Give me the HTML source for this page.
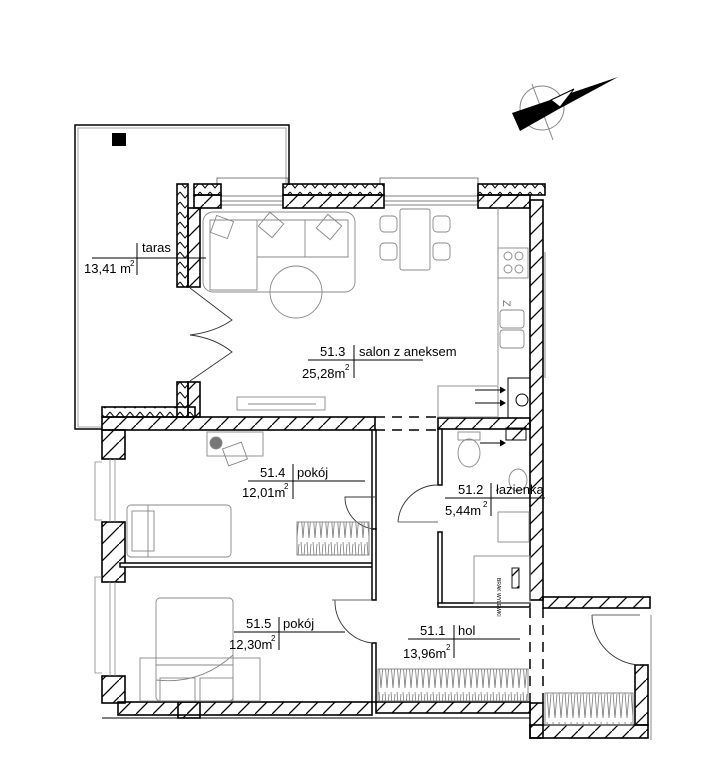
<!DOCTYPE html>
<html><head><meta charset="utf-8"><style>
html,body{margin:0;padding:0;background:#fff;}
svg{display:block;}
text{font-family:"Liberation Sans",sans-serif;font-size:13px;fill:#000;}
</style></head><body>
<svg width="703" height="782" viewBox="0 0 703 782" xmlns="http://www.w3.org/2000/svg">
<defs>
<pattern id="h" patternUnits="userSpaceOnUse" width="17" height="17">
<line x1="0" y1="17" x2="17" y2="0" stroke="#000" stroke-width="1.3"/>
</pattern>
<pattern id="ins" patternUnits="userSpaceOnUse" width="10" height="10">
<path d="M0,2 L5,8 L10,2" fill="none" stroke="#000" stroke-width="1"/>
</pattern>
<pattern id="wd" patternUnits="userSpaceOnUse" width="6" height="30">
<path d="M1,2 L3,28 L5,4" fill="none" stroke="#777" stroke-width="0.8"/>
</pattern>
</defs>

<circle cx="542" cy="108" r="22" fill="none" stroke="#888" stroke-width="1"/>
<line x1="532" y1="84" x2="553" y2="140" stroke="#888"/>
<polygon points="512,113 618,77 557,110 520,131" fill="#000"/>
<polygon points="551,100 574,89 560,107" fill="#fff" stroke="#000" stroke-width="1"/>

<path d="M289,185 V125 H75 V429 H102" fill="none" stroke="#000" stroke-width="1.5"/>
<path d="M286,185 V128 H78 V427 H102" fill="none" stroke="#888" stroke-width="0.8"/>
<rect x="112" y="133" width="14" height="13" fill="#000"/>

<g fill="none" stroke="#555" stroke-width="0.8">
<path d="M217,185 V178 H288 V185"/><path d="M380,185 V178 H478 V185"/>
<line x1="221" y1="196" x2="283" y2="196"/><line x1="221" y1="201" x2="283" y2="201"/><line x1="221" y1="205" x2="283" y2="205"/>
<line x1="384" y1="196" x2="478" y2="196"/><line x1="384" y1="201" x2="478" y2="201"/><line x1="384" y1="205" x2="478" y2="205"/>
</g>

<g stroke="#000" stroke-width="1.6">
<rect x="194" y="184" width="27" height="11" fill="url(#ins)"/>
<rect x="194" y="195" width="27" height="13" fill="url(#h)"/>
<rect x="283" y="184" width="101" height="11" fill="url(#ins)"/>
<rect x="283" y="195" width="101" height="13" fill="url(#h)"/>
<rect x="478" y="184" width="67" height="11" fill="url(#ins)"/>
<rect x="478" y="195" width="52" height="13" fill="url(#h)"/>
<rect x="177" y="184" width="11" height="103" fill="url(#ins)"/>
<rect x="188" y="208" width="12" height="79" fill="url(#h)"/>
<rect x="177" y="382" width="11" height="35" fill="url(#ins)"/>
<rect x="188" y="382" width="12" height="35" fill="url(#h)"/>
<rect x="530" y="200" width="13" height="400" fill="url(#h)"/>
<rect x="102" y="407" width="93" height="10" fill="url(#ins)"/>
<rect x="102" y="417" width="273" height="13" fill="url(#h)"/>
<rect x="438" y="418" width="92" height="11" fill="url(#h)"/>
<rect x="102" y="430" width="23" height="29" fill="url(#h)"/>
<rect x="102" y="522" width="23" height="60" fill="url(#h)"/>
<rect x="102" y="676" width="23" height="27" fill="url(#h)"/>
<rect x="118" y="702" width="254" height="13" fill="url(#h)"/>
<rect x="178" y="702" width="22" height="16" fill="url(#h)"/>
<rect x="376" y="702" width="154" height="11" fill="url(#h)"/>
<rect x="543" y="597" width="107" height="11" fill="url(#h)"/>
<rect x="530" y="703" width="13" height="35" fill="url(#h)"/>
<rect x="530" y="725" width="118" height="13" fill="url(#h)"/>
<rect x="635" y="665" width="13" height="60" fill="url(#h)"/>
</g>
<line x1="545" y1="252" x2="545" y2="378" stroke="#888"/>
<line x1="651" y1="615" x2="651" y2="740" stroke="#888"/>
<line x1="102" y1="718" x2="530" y2="718" stroke="#000" stroke-width="1"/>

<g stroke="#000" stroke-width="1.5" fill="#fff">
<rect x="120" y="563" width="255" height="4"/>
<rect x="372" y="430" width="4" height="99"/>
<rect x="372" y="529" width="4" height="71"/>
<rect x="372" y="643" width="4" height="59"/>
<rect x="438" y="429" width="4" height="56"/>
<rect x="438" y="532" width="4" height="72"/>
<rect x="438" y="603" width="92" height="4"/>
</g>
<g stroke="#000" stroke-width="1.5" stroke-dasharray="10,7">
<line x1="375" y1="417" x2="438" y2="417"/><line x1="375" y1="430" x2="438" y2="430"/>
<line x1="530" y1="608" x2="530" y2="703"/><line x1="543" y1="608" x2="543" y2="703"/>
</g>

<g fill="none" stroke="#888" stroke-width="0.8">
<path d="M102,462 H95 V520 H102"/><line x1="110" y1="459" x2="110" y2="522"/><line x1="115" y1="459" x2="115" y2="522"/>
<path d="M102,577 H95 V673 H102"/><line x1="110" y1="582" x2="110" y2="676"/><line x1="115" y1="582" x2="115" y2="676"/>
</g>

<g fill="none" stroke="#333" stroke-width="0.9">
<path d="M190,288 L232,320 Q215,332 190,335"/>
<path d="M190,381 L232,352 Q215,338 190,335"/>
<path d="M375,497 L345,497 A32,32 0 0 0 375,529"/>
<path d="M335,600 A42,42 0 0 0 372,643"/><line x1="332" y1="600" x2="372" y2="600" stroke="#666"/>
<path d="M438,485 A40,40 0 0 0 398,522"/><line x1="398" y1="522" x2="438" y2="522" stroke="#666"/>
<path d="M592,615 A50,50 0 0 0 640,665"/><line x1="592" y1="615" x2="640" y2="615" stroke="#666"/>
</g>

<g fill="none" stroke="#888" stroke-width="0.9">
<rect x="203" y="212" width="152" height="80" rx="10"/>
<path d="M210,220 H348 V257 H257 V290 H210 Z"/>
<line x1="257" y1="220" x2="257" y2="257"/><line x1="305" y1="220" x2="305" y2="257"/>
<rect x="213" y="218" width="18" height="18" transform="rotate(20 222 227)"/>
<rect x="262" y="216" width="18" height="18" transform="rotate(40 271 225)"/>
<rect x="320" y="218" width="18" height="18" transform="rotate(40 329 227)"/>
<circle cx="296" cy="292" r="26"/>
<rect x="400" y="209" width="30" height="61" rx="2"/>
<rect x="380" y="216" width="17" height="16" rx="4"/><rect x="380" y="243" width="17" height="17" rx="4"/>
<rect x="433" y="216" width="17" height="16" rx="4"/><rect x="433" y="243" width="17" height="17" rx="4"/>
<line x1="498" y1="208" x2="498" y2="385"/>
<rect x="498" y="248" width="30" height="30"/>
<circle cx="508" cy="256" r="4"/><circle cx="519" cy="256" r="4"/><circle cx="508" cy="269" r="4"/><circle cx="519" cy="269" r="4"/>
<rect x="500" y="310" width="24" height="18" rx="3"/><rect x="500" y="330" width="24" height="18" rx="3"/>
<rect x="237" y="397" width="88" height="13"/><line x1="248" y1="404" x2="316" y2="404"/>
<rect x="438" y="386" width="60" height="31"/>
<rect x="207" y="432" width="56" height="24"/><circle cx="216" cy="443" r="6" fill="#777"/>
<rect x="225" y="445" width="20" height="18" transform="rotate(-20 235 454)"/>
<rect x="127" y="505" width="104" height="52" rx="4"/><rect x="132" y="511" width="22" height="40"/><line x1="148" y1="505" x2="148" y2="557"/>
<rect x="297" y="522" width="72" height="33"/><rect x="297" y="522" width="72" height="33" fill="url(#wd)"/>
<rect x="156" y="598" width="77" height="103" rx="4"/><path d="M156,665 H233 M156,680 Q200,685 233,655"/>
<rect x="140" y="658" width="120" height="43"/><rect x="160" y="678" width="35" height="23"/><rect x="200" y="678" width="33" height="23"/>
<rect x="378" y="669" width="150" height="32"/><rect x="378" y="669" width="150" height="32" fill="url(#wd)"/>
<rect x="545" y="693" width="88" height="32"/><rect x="545" y="693" width="88" height="32" fill="url(#wd)"/>
<ellipse cx="469" cy="453" rx="11" ry="14"/><rect x="458" y="432" width="22" height="8"/>
<ellipse cx="518" cy="480" rx="9" ry="11"/>
<rect x="498" y="512" width="31" height="30"/>
<rect x="474" y="556" width="56" height="47"/>
<rect x="512" y="568" width="7" height="20" fill="url(#h)" stroke="#000"/>
</g>
<text x="497" y="578" transform="rotate(90 497 578)" style="font-size:5px">BRAK WYLEWKI</text>
<text x="503" y="300" transform="rotate(90 503 300)" style="font-size:11px;fill:#777">Z</text>
<g stroke="#000" fill="none" stroke-width="1">
<rect x="508" y="378" width="22" height="40"/><circle cx="522" cy="400" r="6"/>
<rect x="506" y="428" width="20" height="12" fill="url(#h)"/>
<line x1="475" y1="390" x2="503" y2="390"/><path d="M500,387 L505,390 L500,393" fill="#000"/>
<line x1="475" y1="403" x2="503" y2="403"/><path d="M500,400 L505,403 L500,406" fill="#000"/>
<line x1="480" y1="443" x2="503" y2="443"/><path d="M500,440 L505,443 L500,446" fill="#000"/>
</g>

<g stroke="#000" stroke-width="1">
<line x1="92" y1="258" x2="206" y2="258"/><line x1="137" y1="243" x2="137" y2="275"/>
<line x1="308" y1="360" x2="423" y2="360"/><line x1="354" y1="345" x2="354" y2="378"/>
<line x1="248" y1="481" x2="365" y2="481"/><line x1="293" y1="464" x2="293" y2="499"/>
<line x1="234" y1="632" x2="345" y2="632"/><line x1="279" y1="617" x2="279" y2="650"/>
<line x1="408" y1="639" x2="520" y2="639"/><line x1="454" y1="625" x2="454" y2="658"/>
<line x1="445" y1="498" x2="545" y2="498"/><line x1="491" y1="483" x2="491" y2="516"/>
</g>
<text x="142" y="252">taras</text>
<text x="84" y="273">13,41 m</text><text x="130" y="266" style="font-size:8px">2</text>
<text x="320" y="356">51.3</text><text x="359" y="356">salon  z  aneksem</text>
<text x="302" y="378">25,28m</text><text x="345" y="370" style="font-size:8px">2</text>
<text x="260" y="477">51.4</text><text x="297" y="477">pokój</text>
<text x="242" y="497">12,01m</text><text x="284" y="489" style="font-size:8px">2</text>
<text x="246" y="628">51.5</text><text x="283" y="628">pokój</text>
<text x="229" y="649">12,30m</text><text x="271" y="641" style="font-size:8px">2</text>
<text x="420" y="635">51.1</text><text x="458" y="635">hol</text>
<text x="403" y="658">13,96m</text><text x="446" y="650" style="font-size:8px">2</text>
<text x="458" y="494">51.2</text><text x="496" y="494">łazienka</text>
<text x="445" y="515">5,44m</text><text x="483" y="507" style="font-size:8px">2</text>
</svg>
</body></html>
